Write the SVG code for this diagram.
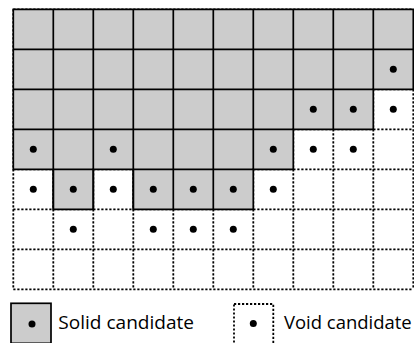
<svg xmlns="http://www.w3.org/2000/svg" width="414" height="343" viewBox="0 0 414 343">
<style>
.void{fill:none;stroke:#000;stroke-width:1.8;stroke-dasharray:2.2 1.8}
.solid{fill:#cccccc;stroke:#000;stroke-width:1.7}
.dot{fill:#000}
.lbl{font-family:"Open Sans","Noto Sans",sans-serif;font-size:19px;fill:#000}
</style>
<rect width="414" height="343" fill="#fff"/>
<g id="void-grid">
<path class="void" d="M13.3 9.3H413.3M13.3 49.3H413.3M13.3 89.3H413.3M13.3 129.3H413.3M13.3 169.3H413.3M13.3 209.3H413.3M13.3 249.3H413.3M13.3 289.3H413.3"/>
<path class="void" d="M13.3 9.3V289.3M53.3 9.3V289.3M93.3 9.3V289.3M133.3 9.3V289.3M173.3 9.3V289.3M213.3 9.3V289.3M253.3 9.3V289.3M293.3 9.3V289.3M333.3 9.3V289.3M373.3 9.3V289.3M413.3 9.3V289.3"/>
</g>
<g id="solid-cells">
<path class="solid" d="M13.3 9.3H413.3V89.3H373.3V129.3H293.3V169.3H253.3V209.3H133.3V169.3H93.3V209.3H53.3V169.3H13.3Z"/>
<path fill="none" stroke="#000" stroke-width="1.7" d="M13.3 49.3H413.3M13.3 89.3H373.3M13.3 129.3H293.3M53.3 169.3H93.3M133.3 169.3H253.3M53.3 9.3V209.3M93.3 9.3V209.3M133.3 9.3V209.3M173.3 9.3V209.3M213.3 9.3V209.3M253.3 9.3V169.3M293.3 9.3V129.3M333.3 9.3V129.3M373.3 9.3V89.3"/>
</g>
<g id="dots">
<circle class="dot" cx="393.3" cy="69.3" r="3.5"/>
<circle class="dot" cx="313.3" cy="109.3" r="3.5"/>
<circle class="dot" cx="353.3" cy="109.3" r="3.5"/>
<circle class="dot" cx="393.3" cy="109.3" r="3.5"/>
<circle class="dot" cx="33.3" cy="149.3" r="3.5"/>
<circle class="dot" cx="113.3" cy="149.3" r="3.5"/>
<circle class="dot" cx="273.3" cy="149.3" r="3.5"/>
<circle class="dot" cx="313.3" cy="149.3" r="3.5"/>
<circle class="dot" cx="353.3" cy="149.3" r="3.5"/>
<circle class="dot" cx="33.3" cy="189.3" r="3.5"/>
<circle class="dot" cx="73.3" cy="189.3" r="3.5"/>
<circle class="dot" cx="113.3" cy="189.3" r="3.5"/>
<circle class="dot" cx="153.3" cy="189.3" r="3.5"/>
<circle class="dot" cx="193.3" cy="189.3" r="3.5"/>
<circle class="dot" cx="233.3" cy="189.3" r="3.5"/>
<circle class="dot" cx="273.3" cy="189.3" r="3.5"/>
<circle class="dot" cx="73.3" cy="229.3" r="3.5"/>
<circle class="dot" cx="153.3" cy="229.3" r="3.5"/>
<circle class="dot" cx="193.3" cy="229.3" r="3.5"/>
<circle class="dot" cx="233.3" cy="229.3" r="3.5"/>
</g>
<g id="legend-solid">
<rect class="solid" x="11" y="303.3" width="40" height="40"/>
<circle class="dot" cx="32" cy="324" r="3.5"/>
<text class="lbl" x="58.3" y="329.3" textLength="135.7" lengthAdjust="spacingAndGlyphs">Solid candidate</text>
</g>
<g id="legend-void">
<rect class="void" x="234" y="304" width="39.3" height="40"/>
<circle class="dot" cx="253.3" cy="323.5" r="3.5"/>
<text class="lbl" x="284" y="329.3" textLength="127.7" lengthAdjust="spacingAndGlyphs">Void candidate</text>
</g>
</svg>
